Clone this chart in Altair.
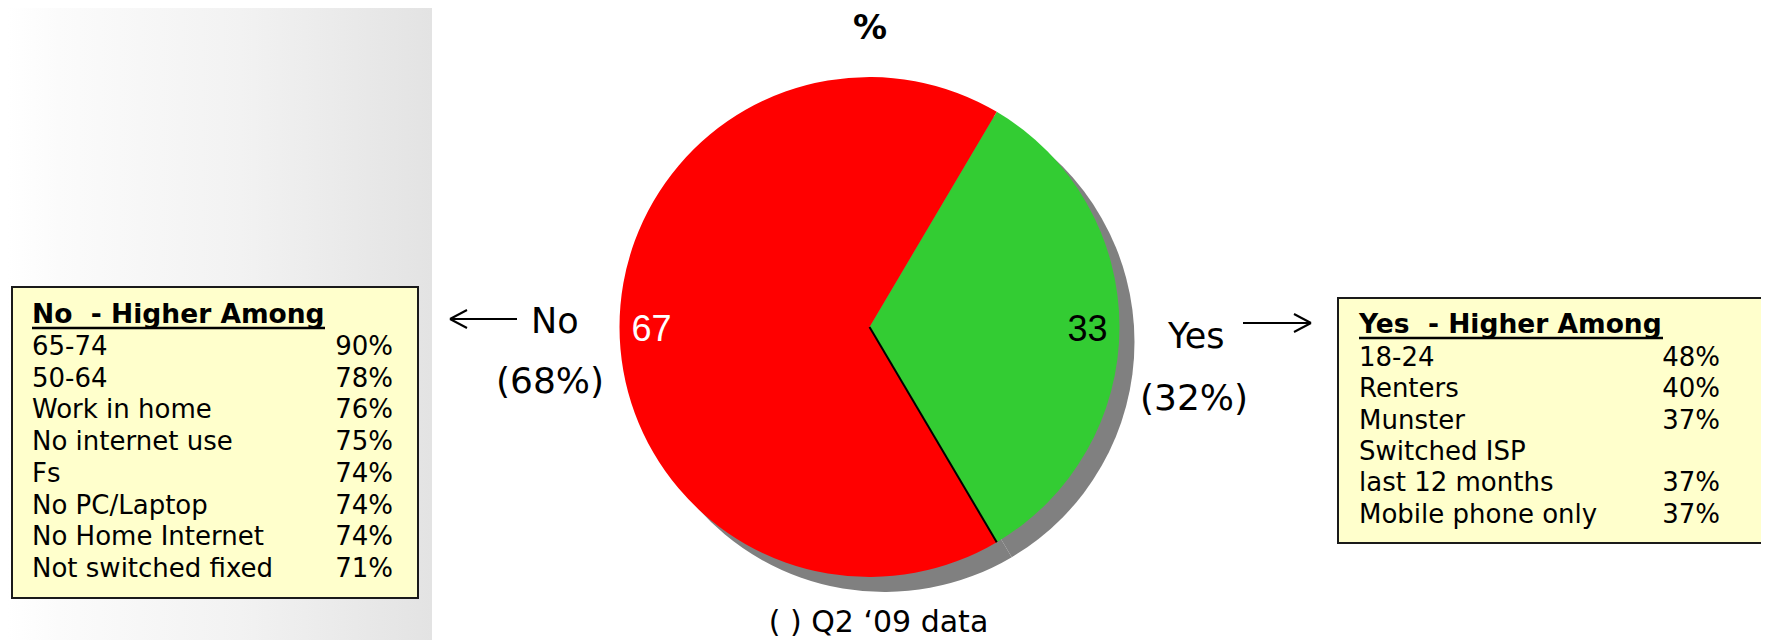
import math
import altair as alt
import pandas as pd

# ---- data ----
answers = ["Yes", "No"]
shares = [33, 67]
prior_labels = ["(32%)", "(68%)"]

no_groups = ["65-74", "50-64", "Work in home", "No internet use", "Fs",
             "No PC/Laptop", "No Home Internet", "Not switched fixed"]
no_pcts = ["90%", "78%", "76%", "75%", "74%", "74%", "74%", "71%"]

yes_groups = ["18-24", "Renters", "Munster", "Switched ISP", "last 12 months",
              "Mobile phone only"]
yes_pcts = ["48%", "40%", "37%", "", "37%", "37%"]

title_text = "%"
footnote = "( ) Q2 \u201809 data"

# ---- layout helpers (page px -> chart px) ----
M = 8
def px(v):
    return v - M

CX, CY, R = px(869.5), px(327), 250
SH = 15
total = sum(shares)
OFF = math.pi / 2 - math.pi * shares[0] / total

one = pd.DataFrame({"a": [0]})
pie_df = pd.DataFrame({"answer": answers, "share": shares, "order": [0, 1]})

FONT = "DejaVu Sans"
ARIAL = "Liberation Sans"

layers = []

# background band
band = alt.Chart(one).mark_rect(
    fill=alt.LinearGradient(
        gradient="linear",
        stops=[alt.GradientStop(color="#ffffff", offset=0),
               alt.GradientStop(color="#fbfbfb", offset=0.12),
               alt.GradientStop(color="#f2f2f2", offset=0.55),
               alt.GradientStop(color="#e3e3e3", offset=1)],
        x1=0, x2=1, y1=0, y2=0)
).encode(x=alt.value(0), x2=alt.value(px(432)), y=alt.value(0), y2=alt.value(640))
layers.append(band)

theta = alt.Theta("share:Q", stack=True,
                  scale=alt.Scale(range=[OFF, OFF + 2 * math.pi]))

shadow = alt.Chart(pie_df).mark_arc(radius=R, color="#808080").encode(
    theta=theta, order=alt.Order("order:Q"),
    x=alt.value(CX + SH), y=alt.value(CY + SH))
layers.append(shadow)

pie = alt.Chart(pie_df).mark_arc(radius=R).encode(
    theta=theta, order=alt.Order("order:Q"),
    color=alt.Color("answer:N", scale=alt.Scale(domain=answers, range=["#33CC33", "#FF0000"]),
                    legend=None),
    x=alt.value(CX), y=alt.value(CY))
layers.append(pie)

# black edge line on lower boundary of the Yes slice
edge = alt.Chart(pie_df).transform_joinaggregate(
    total="sum(share)"
).transform_filter(alt.datum.answer == answers[0]).transform_calculate(
    cx=f"{CX}", cy=f"{CY}",
    ex=f"{CX} + {R}*sin({OFF} + 2*PI*datum.share/datum.total)",
    ey=f"{CY} - {R}*cos({OFF} + 2*PI*datum.share/datum.total)",
).mark_rule(color="black", strokeWidth=2).encode(
    x=alt.X("cx:Q", scale=None, axis=None), y=alt.Y("cy:Q", scale=None, axis=None),
    x2="ex:Q", y2="ey:Q")
layers.append(edge)

slice_labels = alt.Chart(pie_df).mark_text(
    radius=218, font=ARIAL, fontSize=36, baseline="middle", dy=3
).encode(
    theta=theta, order=alt.Order("order:Q"),
    text=alt.Text("share:Q"),
    color=alt.condition(alt.datum.answer == "No", alt.value("white"), alt.value("black")),
    x=alt.value(CX), y=alt.value(CY))
layers.append(slice_labels)

def txt(s, x, y, size, align="left", weight="normal", font=FONT):
    return alt.Chart(one).mark_text(
        text=s, font=font, fontSize=size, align=align, baseline="alphabetic",
        fontWeight=weight, color="black"
    ).encode(x=alt.value(px(x)), y=alt.value(px(y)))

layers.append(txt(title_text, 870, 39, 34, align="center", weight="bold"))
layers.append(txt(footnote, 878.5, 632, 30, align="center"))
layers.append(txt(answers[1], 531, 333, 35))
layers.append(txt(prior_labels[1], 496, 393, 36))
layers.append(txt(answers[0], 1168, 348, 35))
layers.append(txt(prior_labels[0], 1140, 410, 36))

def rule(x1, y1, x2, y2, w=2):
    return alt.Chart(one).mark_rule(color="black", strokeWidth=w).encode(
        x=alt.value(px(x1)), y=alt.value(px(y1)), x2=alt.value(px(x2)), y2=alt.value(px(y2)))

# arrows
layers += [rule(450, 319, 517, 319), rule(450, 319, 467, 310), rule(450, 319, 467, 328)]
layers += [rule(1243, 323, 1311, 323), rule(1311, 323, 1294, 314), rule(1311, 323, 1294, 332)]

def box(x1, y1, x2, y2):
    return alt.Chart(one).mark_rect(fill="#FFFFCC", stroke="#1a1a1a", strokeWidth=2).encode(
        x=alt.value(px(x1)), x2=alt.value(px(x2)), y=alt.value(px(y1)), y2=alt.value(px(y2)))

def rows(groups, pcts, xl, xr, y0, step):
    df = pd.DataFrame({"g": groups, "p": pcts, "i": list(range(len(groups)))})
    base = alt.Chart(df).transform_calculate(
        yy=f"{px(y0)} + datum.i*{step}", xl=f"{px(xl)}", xr=f"{px(xr)}")
    lab = base.mark_text(font=FONT, fontSize=26, align="left", baseline="alphabetic",
                         color="black").encode(
        x=alt.X("xl:Q", scale=None, axis=None), y=alt.Y("yy:Q", scale=None, axis=None),
        text="g:N")
    pct = base.mark_text(font=FONT, fontSize=26, align="right", baseline="alphabetic",
                         color="black").encode(
        x=alt.X("xr:Q", scale=None, axis=None), y=alt.Y("yy:Q", scale=None, axis=None),
        text="p:N")
    return [lab, pct]

# left box
layers.append(box(12, 287, 418, 598))
layers.append(txt("No\u00a0 - Higher Among", 32, 323, 26.5, weight="bold"))
layers.append(rule(32, 328, 325, 328, 2.5))
layers += rows(no_groups, no_pcts, 32, 393, 355, 31.7)

# right box
layers.append(box(1338, 298, 1767, 543))
layers.append(txt("Yes\u00a0 - Higher Among", 1359, 333, 26.5, weight="bold"))
layers.append(rule(1359, 338, 1663, 338, 2.5))
layers += rows(yes_groups, yes_pcts, 1359, 1720, 366, 31.3)

chart = alt.layer(*layers).properties(
    width=1753, height=632, padding=0, autosize="none", background="white"
).configure_view(stroke=None)

chart.save("out.html", embed_options={"renderer": "svg", "actions": False})
